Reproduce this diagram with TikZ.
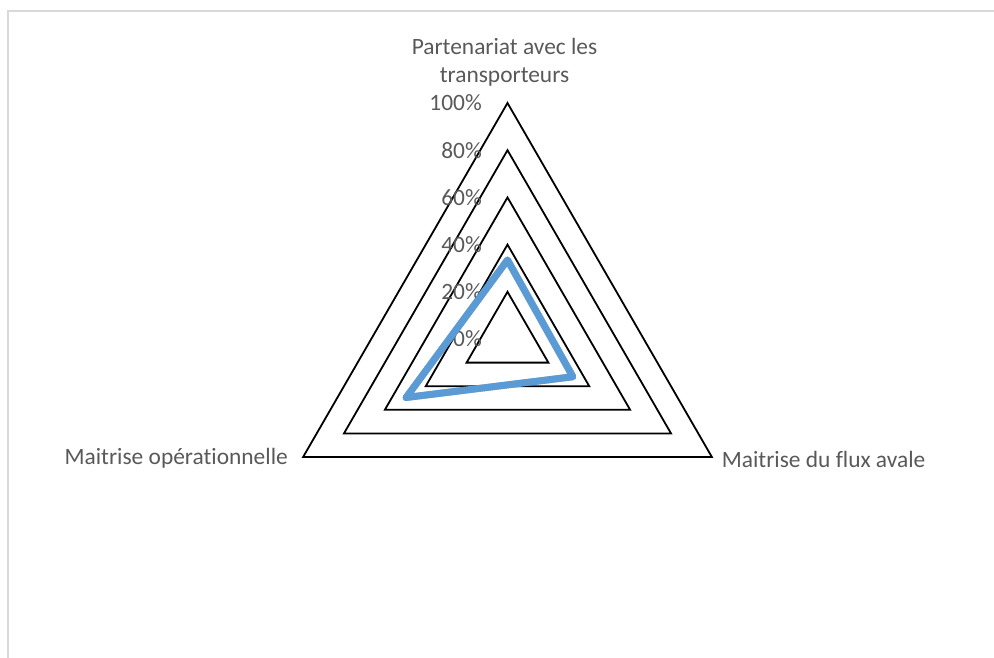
\documentclass[tikz,border=0pt]{standalone}
\usepackage{fontspec}
\setmainfont[Ligatures=NoCommon]{Carlito}
\usepackage{tikz}
\usepackage{xcolor}
\definecolor{texte}{HTML}{595959}
\definecolor{serie}{HTML}{5B9BD5}
\definecolor{cadre}{HTML}{D9D9D9}

\begin{document}
\begin{tikzpicture}[x=1pt, y=1pt, line join=miter]

\tikzset{
    grille/.style={line width=1.8pt, black},
    etiq/.style={text=texte, inner sep=0pt, font=\fontsize{23.4}{28.3}\selectfont},
    pourcent/.style={etiq, anchor=east}
}

\useasboundingbox (-507.5,-318) rectangle (486.5,339);

% Cadre
\draw[
    line width=1.4pt,
    cadre
] (-499.5,-320) -- (-499.5,328) -- (490,328);

% Grille
\draw[grille] (90:47.2) -- (210:47.2) -- (330:47.2) -- cycle;
\draw[grille] (90:94.4) -- (210:94.4) -- (330:94.4) -- cycle;
\draw[grille] (90:141.6) -- (210:141.6) -- (330:141.6) -- cycle;
\draw[grille] (90:188.8) -- (210:188.8) -- (330:188.8) -- cycle;
\draw[grille] (90:236) -- (210:236) -- (330:236) -- cycle;

% Graduations
\node[pourcent] (p0) at (-25.5,0) {0\%};
\node[pourcent] (p20) at (-25.5,47.2) {20\%};
\node[pourcent] (p40) at (-25.5,94.4) {40\%};
\node[pourcent] (p60) at (-25.5,141.6) {60\%};
\node[pourcent] (p80) at (-25.5,188.8) {80\%};
\node[pourcent] (p100) at (-25.5,236) {100\%};

% Axes
\node[
    etiq,
    align=center,
    anchor=center
] (partenariat) at (-3,277) {Partenariat avec les\\transporteurs};

\node[
    etiq,
    anchor=east
] (operation) at (-219.5,-119) {Maitrise opérationnelle};

\node[
    etiq,
    anchor=west
] (flux) at (214.2,-120) {Maitrise du flux avale};

% Série
\coordinate (vp) at (90:79);
\coordinate (vf) at (330:75.5);
\coordinate (vo) at (210:117);

\draw[
    line width=7pt,
    black,
    opacity=0.25,
    line join=round,
    shift={(2.5,-3.5)}
] (vp) -- (vf) -- (vo) -- cycle;

\draw[
    line width=7pt,
    serie,
    line join=round
] (vp) -- (vf) -- (vo) -- cycle;

\end{tikzpicture}
\end{document}
